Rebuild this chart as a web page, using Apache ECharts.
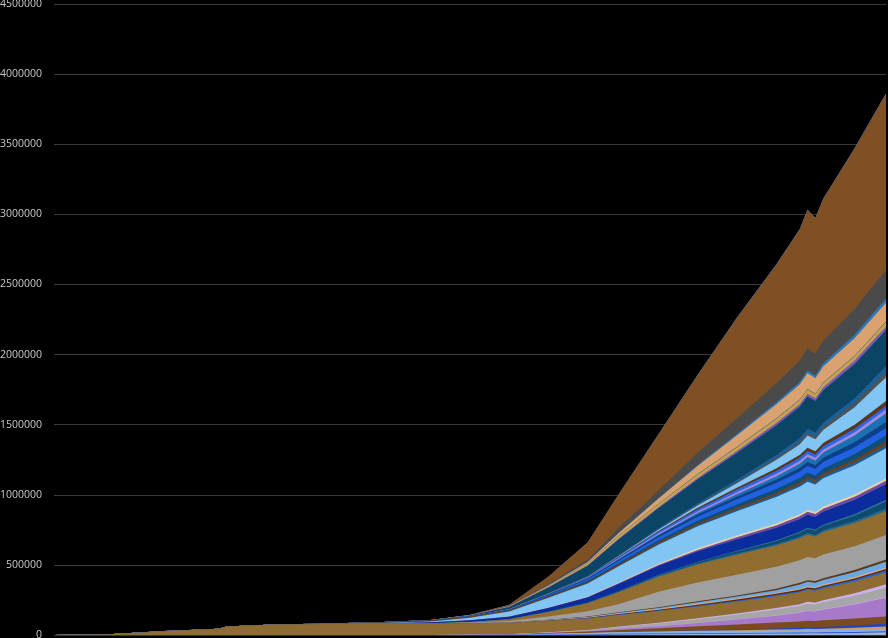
<!DOCTYPE html>
<html><head><meta charset="utf-8">
<script src="https://cdn.jsdelivr.net/npm/echarts@6/dist/echarts.min.js"></script>
<style>html,body{margin:0;padding:0;background:#000;}#c{width:888px;height:638px;}</style>
</head><body><div id="c"></div>
<script>
// Day index since first date (x positions), values in thousands of cases
const DAYS = [0,7,14,21,22,28,35,42,48,53,58,63,68,72,77,82,87,92,95,96,97,98,102,106];
const UNIT = 1000;
const Y_TICKS = [0,500000,1000000,1500000,2000000,2500000,3000000,3500000,4000000,4500000];

const afghanistanArmenia = [0,0,0,0,0,0,0,0,0.02,0.2,0.5,1.3,2.3,3.4,5,6.7,8.3,10,11,11.8,11.6,12.2,15,19];
const australia = [0,0,0.01,0.02,0.02,0.02,0.02,0.03,0.07,0.2,0.45,2.1,3.6,5.1,5.9,6.3,6.5,6.65,6.7,6.7,6.6,6.7,6.8,6.9];
const austria = [0,0,0,0,0,0,0,0.02,0.1,0.5,1.6,5.3,8.3,11,12.6,13.9,14.6,14.9,15.1,15.2,14.9,15.3,15.6,15.8];
const bahrainBangladesh = [0,0,0,0,0,0,0.03,0.05,0.1,0.2,0.3,0.5,0.8,1.1,1.8,3,5,7.5,9,10,9.8,10.8,14.5,18.6];
const belarus = [0,0,0,0,0,0,0,0,0.01,0.03,0.05,0.1,0.1,0.2,1.1,2.9,4.8,8,9.6,11.3,11.1,12.2,16,20.2];
const belgium = [0,0,0,0,0,0,0,0.01,0.2,0.6,1.5,4.3,9.1,15.3,22.2,30,36,42,45.3,47,46,47.9,49.9,51.4];
const brazil = [0,0,0,0,0,0,0,0,0.03,0.15,0.4,2.4,4.2,8.5,14.6,23.4,34.8,48.2,61.4,68.5,67.1,74.8,100,133];
const bulgariaCameroon = [0,0,0,0,0,0,0,0,0,0.02,0.1,0.3,0.5,0.8,1.5,2,2.5,3,3.4,3.6,3.5,3.8,4.6,5.5];
const canada = [0,0,0,0.01,0.01,0.01,0.01,0.03,0.06,0.2,0.7,2.1,5.7,11.3,17.9,24.8,31.9,41,45.7,48.5,47.5,50,57,66.4];
const chile = [0,0,0,0,0,0,0,0,0,0.03,0.24,0.9,1.9,3.4,5.1,7,9.5,11.5,12.9,13.8,13.5,14.4,18.4,24.8];
const china = [0.55,6,27.5,44.7,59.9,74.5,78.5,80.3,80.7,81,81.1,81.5,82,82.4,82.8,83.1,83.8,83.9,83.9,83.9,83.9,83.9,84,84];
const colombiaCroatia = [0,0,0,0,0,0,0,0,0.01,0.05,0.3,1,1.9,3,4.3,5.6,6.7,8,8.8,9.4,9.2,9.8,11.8,14.3];
const cubaCzechia = [0,0,0,0,0,0,0,0,0.03,0.12,0.6,1.7,2.9,4.5,6,7.2,8,8.8,9.2,9.4,9.2,9.5,9.9,10.6];
const denmark = [0,0,0,0,0,0,0,0.01,0.03,0.8,1.1,1.6,2.4,3.4,5.1,6.4,7.1,8,8.6,8.8,8.6,9,9.6,10.1];
const diamondEcuador = [0,0,0,0.17,0.22,0.62,0.7,0.71,0.71,0.75,1,2.1,3.1,5.3,7.1,11.1,14.7,17.9,30.3,31.2,30.5,32.5,36.9,40.9];
const egyptFinland = [0,0,0,0,0,0,0,0.01,0.1,0.3,0.7,1.6,2.5,3.7,5.2,6.7,8.3,10,10.9,11.5,11.3,11.9,14,16.8];
const france = [0,0,0.01,0.01,0.01,0.01,0.02,0.2,1.1,3.7,9.1,22.6,38,59.1,110,134,148,157,162,165.8,162.5,169,168.5,174.8];
const germany = [0,0,0.01,0.02,0.02,0.02,0.02,0.2,0.9,3.7,12.3,32.9,57.7,84.8,107.7,128,141.5,151.5,156.7,159.3,156,160.8,165.8,171.2];
const ghanaIceland = [0,0,0,0,0,0,0,0.01,0.05,0.4,1,2,2.8,4.2,5.8,7.2,8.4,10,11,11.4,11.2,11.8,14.4,18];
const india = [0,0,0.003,0.003,0.003,0.003,0.003,0.005,0.04,0.08,0.15,0.5,1,2.5,5.3,9.5,14.4,21,26.3,29.4,28.8,31.3,38.5,50];
const indonesia = [0,0,0,0,0,0,0,0,0.01,0.07,0.2,0.7,1.2,1.8,2.9,4.4,6,7.6,8.6,9.1,8.9,9.5,11.2,12.8];
const iran = [0,0,0,0,0,0.002,0.14,2.3,6.2,11.4,17.4,24.8,35.4,50.5,62.6,72.5,80,86.5,89.3,91.5,89.7,92.6,100,110];
const iraqIreland = [0,0,0,0,0,0,0.01,0.03,0.1,0.17,0.46,1.6,2.9,4.7,6.9,11.2,15.5,18.4,20.3,21.1,20.7,21.45,23.1,24.8];
const israel = [0,0,0,0,0,0,0,0.01,0.04,0.1,0.4,1.9,3.6,6.1,9.2,11.3,13.1,14.7,15.3,15.6,15.3,15.8,16.2,16.4];
const italy = [0,0,0.002,0.003,0.003,0.003,0.45,2.5,6.4,17.7,35.7,69.2,92.5,115.2,135.6,157,174,188.5,195.4,199.4,195.4,201.5,209.3,215.9];
const japanKenya = [0,0.01,0.03,0.03,0.03,0.08,0.19,0.28,0.5,0.75,1,1.6,2.3,3.2,5.2,8.6,12,14.6,16.2,17,16.7,17.4,19.5,21.4];
const koreaKyrgyzstan = [0,0.004,0.02,0.03,0.03,0.05,1.3,5.2,7.4,8.2,8.7,9.4,10.1,10.8,11.6,12.4,13.6,15.5,16.8,17.5,17.2,18,20.5,25.5];
const latviaMexico = [0,0.008,0.012,0.018,0.018,0.022,0.022,0.05,0.1,0.3,1.2,3.5,6.5,10.3,14.5,18.5,22.3,27,30,31.8,31.2,33,38.5,45];
const moldovaNetherlands = [0,0,0,0,0,0,0,0.02,0.2,0.8,2.2,6,10.7,16.3,21.9,29.1,36.1,42,45.3,46.4,45.5,47.1,50.3,52.9];
const nzPakistan = [0,0,0,0,0,0,0.01,0.03,0.18,0.85,1.9,4.3,6.4,8.8,12.3,15.1,18.3,23.1,25.8,28.1,27.5,29.5,35.3,42.2];
const panamaPeru = [0,0,0,0,0,0,0,0,0,0.05,0.26,0.83,1.6,2.8,5.1,10.5,17.4,24.4,31.1,34.8,34.1,37.5,48,63];
const philippinesPoland = [0,0,0,0,0,0,0.003,0.003,0.01,0.1,0.45,1.45,2.7,5.2,8.6,11.4,14.4,17,18.6,19.7,19.3,20.2,22.7,25.3];
const portugal = [0,0,0,0,0,0,0,0.003,0.03,0.1,0.6,2.4,5.2,9,12.4,16.3,19.4,21.8,23.4,24,23.5,24.3,25.2,26.2];
const qatarRomania = [0,0,0,0,0,0,0.003,0.01,0.04,0.4,0.7,1.3,2.05,3.4,6.5,9.5,13.4,17.2,20.3,22.5,22,23.5,28.5,34.7];
const russia = [0,0,0.002,0.002,0.002,0.002,0.002,0.003,0.01,0.05,0.15,0.5,1.3,3.5,7.5,17,32,60,74.6,87.1,85.4,93.6,125,170];
const rwandaSaudi = [0,0,0,0,0,0,0.001,0.01,0.03,0.13,0.33,1.1,1.6,2.5,3.4,5.3,8.3,12.9,16.9,19.4,19,20.6,27.2,34.6];
const senegalSouthSudan = [0,0.007,0.03,0.05,0.06,0.08,0.09,0.11,0.15,0.25,0.6,2.1,3.8,5.55,8,11.2,16.3,24.2,27.4,29.9,29.3,30.95,36.1,44.7];
const spain = [0,0,0.001,0.002,0.002,0.002,0.013,0.15,0.5,5.2,13.9,40,73.2,112,141.9,168,190.8,210,223.8,229.4,224.8,232.1,245.6,256.9];
const sriLankaSweden = [0,0,0,0,0,0,0.002,0.03,0.2,0.8,1.35,2.4,3.6,5.9,8.1,11,13.8,17,19,19.8,19.4,20.6,23.4,26];
const switzerlandTanzania = [0,0.008,0.011,0.018,0.018,0.023,0.032,0.08,0.35,1.15,3.1,10.1,14.4,18.6,22.6,25.9,27.7,29,29.6,29.9,29.3,30,30.6,31];
const thailandTunisia = [0.002,0.014,0.025,0.033,0.033,0.035,0.04,0.043,0.05,0.09,0.25,1,1.5,2.4,3,3.5,3.7,3.8,3.85,3.9,3.8,3.9,4.1,4.3];
const turkey = [0,0,0,0,0,0,0,0,0,0.005,0.19,1.9,7.4,18,34.1,57,79,99,107.8,112.3,110,114.7,124.4,133.7];
const ugandaUAE = [0,0.004,0.005,0.008,0.008,0.009,0.013,0.022,0.05,0.08,0.13,0.35,0.9,2,4.2,7.4,11.5,15.2,18,19.4,19,20.3,25.1,30];
const unitedKingdom = [0,0,0.002,0.009,0.009,0.009,0.013,0.05,0.25,0.8,2.7,8.2,17.3,34.2,55.9,86,111,136,149,158.3,155.1,162.4,184,203];
const us = [0,0.005,0.011,0.013,0.015,0.015,0.06,0.1,0.45,2.2,7.8,53.7,121,243,399,555,717,845,938,988,968,1012,1145,1257];
const uzbekistanZimbabwe = [0,0.002,0.01,0.016,0.016,0.016,0.016,0.016,0.03,0.05,0.2,0.5,0.8,1.2,1.5,1.8,2.1,2.4,2.6,2.8,2.7,2.9,3.3,3.8];

// bottom-to-top stacking order
const SERIES = [
  ['Afghanistan–Armenia', afghanistanArmenia, '#9cb2d6'],
  ['Australia', australia, '#2a58d4'],
  ['Austria', austria, '#7fb2ee'],
  ['Azerbaijan–Bangladesh', bahrainBangladesh, '#d39c60'],
  ['Belarus', belarus, '#1b46c4'],
  ['Belgium', belgium, '#7b4a21'],
  ['Bolivia–Brazil', brazil, '#a67ac9'],
  ['Brunei–Cameroon', bulgariaCameroon, '#c8a8e8'],
  ['Canada', canada, '#a6a6a6'],
  ['Chad–Chile', chile, '#ccb0ea'],
  ['China', china, '#8e6c32'],
  ['Colombia–Croatia', colombiaCroatia, '#2a60d8'],
  ['Cuba–Czechia', cubaCzechia, '#4b2d12'],
  ['Denmark', denmark, '#e2a677'],
  ['Diamond Princess–Ecuador', diamondEcuador, '#6aa9e3'],
  ['Egypt–Finland', egyptFinland, '#5c3719'],
  ['France', france, '#a0a0a0'],
  ['Germany', germany, '#926d30'],
  ['Ghana–Iceland', ghanaIceland, '#226a96'],
  ['India', india, '#0e4b6f'],
  ['Indonesia', indonesia, '#2c6f9b'],
  ['Iran', iran, '#0a2c9c'],
  ['Iraq–Ireland', iraqIreland, '#6c4ba0'],
  ['Israel', israel, '#e8d2a3'],
  ['Italy', italy, '#80c5f3'],
  ['Jamaica–Kenya', japanKenya, '#1c5d92'],
  ['Korea–Kyrgyzstan', koreaKyrgyzstan, '#6b4020'],
  ['Latvia–Mexico', latviaMexico, '#0d4f7a'],
  ['Moldova–Netherlands', moldovaNetherlands, '#2061e0'],
  ['New Zealand–Pakistan', nzPakistan, '#0f3f88'],
  ['Panama–Peru', panamaPeru, '#1b70b2'],
  ['Philippines–Poland', philippinesPoland, '#a688da'],
  ['Portugal', portugal, '#2d67e6'],
  ['Qatar–Romania', qatarRomania, '#5c3719'],
  ['Russia', russia, '#80c5f3'],
  ['Rwanda–Saudi Arabia', rwandaSaudi, '#525252'],
  ['Senegal–South Sudan', senegalSouthSudan, '#1d5e94'],
  ['Spain', spain, '#0c4466'],
  ['Sri Lanka–Sweden', sriLankaSweden, '#7a5ab8'],
  ['Switzerland–Tanzania', switzerlandTanzania, '#c9a04b'],
  ['Thailand–Tunisia', thailandTunisia, '#1a5f94'],
  ['Turkey', turkey, '#daa270'],
  ['Uganda–UAE', ugandaUAE, '#2a78b8'],
  ['United Kingdom', unitedKingdom, '#4a4a4a'],
  ['US', us, '#7f5024'],
  ['Uzbekistan–Zimbabwe', uzbekistanZimbabwe, '#3a7fd0']
];

// cumulative (stacked) totals, built from the series arrays
const running = DAYS.map(() => 0);
const stacked = SERIES.map(([name, vals, color]) => {
  const cum = vals.map((v, j) => (running[j] += v));
  return {name: name, color: color, data: DAYS.map((d, j) => [d, cum[j] * UNIT])};
});

// draw from the top layer down so each lower layer paints over the one above
const seriesOpts = stacked.slice().reverse().map(s => ({
  name: s.name, type: 'line', symbol: 'none', showSymbol: false, silent: true,
  lineStyle: {width: 0}, itemStyle: {color: s.color},
  areaStyle: {color: s.color, opacity: 1, origin: 'start'},
  data: s.data
}));

const chart = echarts.init(document.getElementById('c'), null, {renderer: 'canvas'});
chart.setOption({
  backgroundColor: '#000000',
  animation: false,
  grid: {left: 54, right: 2, top: 4, bottom: 3, outerBoundsMode: 'none', containLabel: false},
  xAxis: {type: 'value', min: 0, max: 106, show: false},
  yAxis: {
    type: 'value', min: Y_TICKS[0], max: Y_TICKS[Y_TICKS.length - 1], interval: Y_TICKS[1] - Y_TICKS[0],
    axisLabel: {color: '#c8c8c8', fontSize: 10.5, fontFamily: 'Open Sans', margin: 12, formatter: v => String(v)},
    splitLine: {lineStyle: {color: '#3a3a3a', width: 1}},
    axisLine: {show: false}, axisTick: {show: false}
  },
  series: seriesOpts
});
</script></body></html>
